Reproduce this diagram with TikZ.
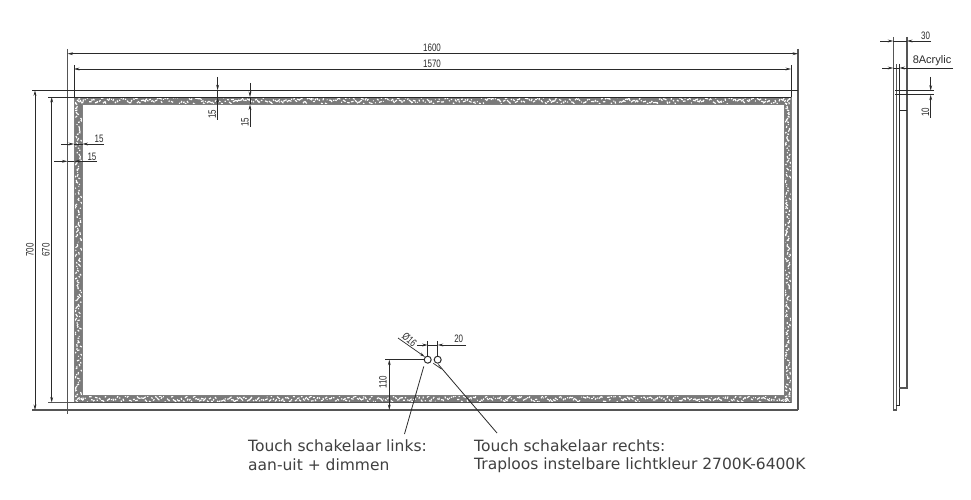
\documentclass[tikz,border=0pt]{standalone}
\usepackage{fontspec}
\setmainfont{DejaVu Sans}
\newfontfamily\dimfont{Liberation Sans}
\usetikzlibrary{arrows.meta}
\definecolor{inkc}{HTML}{2A2A2A}
\definecolor{bandc}{HTML}{7A7A7A}
\newcommand{\dimtxt}[1]{\scalebox{0.74}[1]{\dimfont\fontsize{10.8}{10.8}\selectfont #1}}
\tikzset{
  ln/.style={draw=inkc,line width=0.8pt},
  thin ln/.style={draw=inkc,line width=0.7pt},
  soft ln/.style={draw=inkc!60,line width=0.6pt},
  thick ln/.style={draw=inkc!80,line width=1.1pt},
  dm/.style={draw=inkc,line width=0.7pt,-{Stealth[length=5.5pt,width=2.8pt]}},
  dmb/.style={draw=inkc,line width=0.7pt,{Stealth[length=5.5pt,width=2.8pt]}-{Stealth[length=5.5pt,width=2.8pt]}},
  dimlabel/.style={inner sep=0pt,text=inkc},
  note/.style={inner sep=0pt,anchor=west,text=black!75,font=\fontsize{15.5}{15.5}\selectfont},
  knob/.style={circle,draw=inkc,line width=1pt,minimum size=7pt,inner sep=0pt}
}
\begin{document}
\begin{tikzpicture}[x=1pt,y=-1pt]
\useasboundingbox (0,0) rectangle (971,500);
\fill[white] (0,0) rectangle (971,500);
% speckled LED band
\begin{scope}[even odd rule]
\clip (74,97) rectangle (791,402.5) (82.5,104.5) rectangle (784.5,395.5);
\fill[bandc] (74,97) rectangle (791,402.5);
\pgfmathsetseed{4711}
\foreach \i in {75,77,...,790}{
  \pgfmathsetmacro{\a}{rand*2.6}\pgfmathsetmacro{\b}{rand*2.6}
  \pgfmathsetmacro{\c}{rand*3.2}\pgfmathsetmacro{\d}{rand*2.4}
  \draw[white,line width=1.15pt] (\i,100.7+\a) -- ++(1.6+\c*.4,\d);
  \draw[white,line width=1.15pt] (\i,399+\b) -- ++(1.6+\c*.4,-\d);
}
\foreach \j in {98,100,...,401}{
  \pgfmathsetmacro{\a}{rand*2.6}\pgfmathsetmacro{\b}{rand*2.6}
  \pgfmathsetmacro{\c}{rand*3.2}\pgfmathsetmacro{\d}{rand*2.4}
  \draw[white,line width=1.15pt] (78.2+\a,\j) -- ++(\d,1.6+\c*.4);
  \draw[white,line width=1.15pt] (787.8+\b,\j) -- ++(-\d,1.6+\c*.4);
}
\end{scope}
% front view outlines
\draw[soft ln] (82.5,104.5) rectangle (784.5,395.5);
\draw[thick ln] (67.5,49) -- (67.5,414);
\draw[thick ln] (798,49) -- (798,410);
\draw[ln] (74,65) -- (74,97);
\draw[ln] (791,65) -- (791,97);
\draw[soft ln] (74,97) -- (74,402.5);
\draw[soft ln] (791,97) -- (791,402.5);
\draw[ln] (32,90.3) -- (798,90.3);
\draw[thick ln] (32,410) -- (798,410);
\draw[ln] (48,97) -- (791,97);
\draw[thick ln] (48,402.5) -- (791,402.5);
% overall dimensions
\coordinate (a1) at (67.5,53.7); \coordinate (a2) at (798,53.7);
\coordinate (b1) at (74,69); \coordinate (b2) at (791,69);
\coordinate (c1) at (35,90.3); \coordinate (c2) at (35,410);
\coordinate (d1) at (51.7,97); \coordinate (d2) at (51.7,402.5);
\draw[dmb] (a1) -- (a2);
\draw[dmb] (b1) -- (b2);
\draw[dmb] (c1) -- (c2);
\draw[dmb] (d1) -- (d2);
\node[dimlabel] (t1600) at (432,48.2) {\dimtxt{1600}};
\node[dimlabel] (t1570) at (432,63.7) {\dimtxt{1570}};
\node[dimlabel,rotate=90] (t700) at (30,250) {\dimtxt{700}};
\node[dimlabel,rotate=90] (t670) at (46,250) {\dimtxt{670}};
% 15 dimensions
\draw[dm] (217.6,77) -- (217.6,90.3);
\draw[dm] (217.6,120) -- (217.6,97);
\draw[thin ln] (217.6,90.3) -- (217.6,97);
\draw[dm] (250,83) -- (250,97);
\draw[dm] (250,127) -- (250,104.5);
\draw[thin ln] (250,97) -- (250,104.5);
\draw[dm] (61,144) -- (74,144);
\draw[dm] (104,144) -- (82.5,144);
\draw[thin ln] (74,144) -- (82.5,144);
\draw[dm] (54,161.3) -- (67.5,161.3);
\draw[dm] (97,161.3) -- (74,161.3);
\draw[thin ln] (67.5,161.3) -- (74,161.3);
\node[dimlabel,rotate=90] (v15a) at (212.3,114.5) {\dimtxt{15}};
\node[dimlabel,rotate=90] (v15b) at (245,122) {\dimtxt{15}};
\node[dimlabel] (h15a) at (99,139) {\dimtxt{15}};
\node[dimlabel] (h15b) at (92,156.5) {\dimtxt{15}};
% touch switches
\node[knob] (sw1) at (427.7,359.7) {};
\node[knob] (sw2) at (437.7,359.7) {};
\draw[thin ln] (sw1.north) -- (427.7,341);
\draw[thin ln] (sw2.north) -- (437.7,341);
\draw[dm] (417,345) -- (427.7,345);
\draw[dm] (466,345) -- (437.7,345);
\draw[thin ln] (427.7,345) -- (437.7,345);
\node[dimlabel] (t20) at (458.7,339) {\dimtxt{20}};
\coordinate (lead16) at (398,338);
\coordinate (lead16b) at (433.3,363.3);
\coordinate (lead16c) at (441.5,369);
\draw[dm] (lead16) -- (sw1.north west);
\draw[thin ln] (lead16b) -- (lead16c);
\node[dimlabel,rotate=-42] (t16) at (409.5,339.5) {\dimtxt{Ø16}};
\draw[thin ln] (385,359.7) -- (sw1.west);
\coordinate (e1) at (389.3,359.7); \coordinate (e2) at (389.3,410);
\draw[dmb] (e1) -- (e2);
\node[dimlabel,rotate=90] (t110) at (383,382) {\dimtxt{110}};
% notes and leaders
\node[note] (n1a) at (248,446) {Touch schakelaar links:};
\node[note] (n1b) at (248,465) {aan-uit + dimmen};
\node[note] (n2a) at (474,446) {Touch schakelaar rechts:};
\node[note] (n2b) at (474,465) {Traploos instelbare lichtkleur 2700K-6400K};
\coordinate (l1) at (404.5,434);
\coordinate (l2) at (497,433);
\draw[ln,shorten >=4pt] (l1) -- (sw1.south west);
\draw[ln,shorten >=1pt] (l2) -- (sw2.south);
% side view
\draw[thick ln] (893.3,37) -- (893.3,410) -- (896.2,410) -- (896.2,64);
\draw[ln] (899.3,64) -- (899.3,405) -- (896.2,405);
\draw[thick ln] (907,37) -- (907,388) -- (899.3,388);
\draw[ln] (899.3,110.7) -- (907,110.7);
\draw[ln] (895,90.7) -- (934,90.7);
\draw[ln] (895,94.7) -- (934,94.7);
\draw[dm] (880,41) -- (893.3,41);
\draw[dm] (931,41) -- (907,41);
\draw[thin ln] (893.3,41) -- (907,41);
\draw[dm] (882,68) -- (893.3,68);
\draw[dm] (953,68) -- (899.3,68);
\draw[thin ln] (893.3,68) -- (899.3,68);
\draw[dm] (930.7,77) -- (930.7,90.7);
\draw[dm] (930.7,118) -- (930.7,94.7);
\node[dimlabel] (t30) at (925.5,36) {\dimtxt{30}};
\node[dimlabel] (tac) at (932,60.5) {\dimfont\fontsize{11}{11}\selectfont 8Acrylic};
\node[dimlabel,rotate=90] (t10) at (925.5,112) {\dimtxt{10}};
\end{tikzpicture}
\end{document}
